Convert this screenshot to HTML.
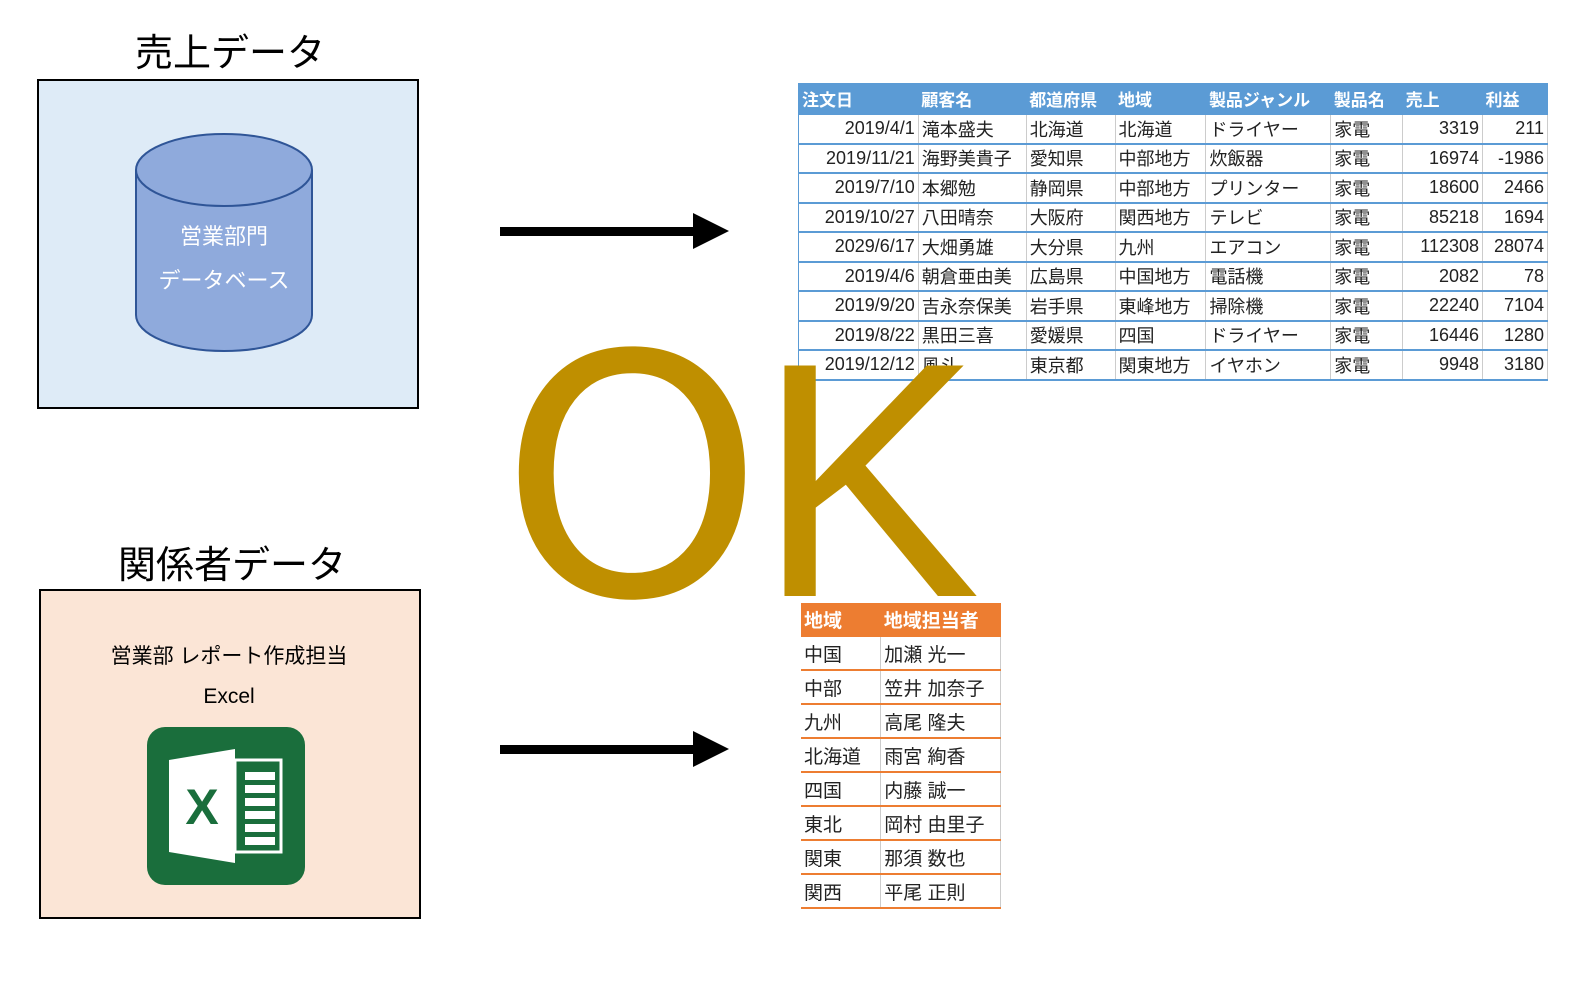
<!DOCTYPE html>
<html><head><meta charset="utf-8"><style>
body{margin:0;width:1574px;height:1000px;background:#fff;position:relative;overflow:hidden;font-family:"Liberation Sans","Noto Sans CJK JP",sans-serif}
.a{position:absolute}
table{border-collapse:collapse;position:absolute;font-size:17px;color:#222}
td{padding:0 3px;white-space:nowrap;overflow:hidden}
#t1{border:1px solid #5B9BD5}
#t1 td{border-bottom:2px solid #5B9BD5;border-right:1px solid #ccc;height:27.5px;font-size:18px}
#t1 tr.h td{background:#5B9BD5;color:#fff;font-weight:bold;height:29px;border-right:none;font-size:17px}
#t1 td.r{text-align:right}
#t2 td{border-bottom:2px solid #ED7D31;border-right:1px solid #ccc;height:32px;font-size:19px}
#t2 tr.h td{background:#ED7D31;color:#fff;font-weight:bold;border-right:none}
</style></head><body>
<div class="a" style="left:0;top:22px;width:460px;text-align:center;font-size:38px">売上データ</div>
<div class="a" style="left:37px;top:79px;width:378px;height:326px;background:#DEEBF7;border:2px solid #000"></div>
<svg class="a" style="left:0;top:0" width="460" height="1000">
<path d="M136 170 V315 A88 36 0 0 0 312 315 V170" fill="#8FAADC" stroke="#2F5597" stroke-width="2"/>
<ellipse cx="224" cy="170" rx="88" ry="36" fill="#8FAADC" stroke="#2F5597" stroke-width="2"/>
<text x="224" y="244" fill="#fff" font-size="22" text-anchor="middle" font-family="Liberation Sans, Noto Sans CJK JP, sans-serif">営業部門</text>
<text x="224" y="288" fill="#fff" font-size="22" text-anchor="middle" font-family="Liberation Sans, Noto Sans CJK JP, sans-serif">データベース</text>
</svg>
<div class="a" style="left:0;top:534px;width:464px;text-align:center;font-size:38px">関係者データ</div>
<div class="a" style="left:39px;top:589px;width:378px;height:326px;background:#FBE5D6;border:2px solid #000"></div>
<div class="a" style="left:39px;top:640px;width:380px;text-align:center;font-size:21px">営業部 レポート作成担当</div>
<div class="a" style="left:39px;top:685px;width:380px;text-align:center;font-size:21px">Excel</div>
<svg class="a" style="left:147px;top:727px" width="158" height="158">
<rect width="158" height="158" rx="18" fill="#1A6E3C"/>
<rect x="88" y="33" width="46" height="92" fill="none" stroke="#fff" stroke-width="3"/>
<g fill="#fff"><rect x="98" y="45" width="30" height="8"/><rect x="98" y="58" width="30" height="8"/><rect x="98" y="71" width="30" height="8"/><rect x="98" y="84" width="30" height="8"/><rect x="98" y="97" width="30" height="8"/><rect x="98" y="110" width="30" height="8"/>
<path d="M22 33 L88 22 V136 L22 125Z"/></g>
<text x="55" y="97" fill="#1A6E3C" font-size="50" font-weight="bold" text-anchor="middle" font-family="Liberation Sans, sans-serif">X</text>
</svg>
<svg class="a" style="left:0;top:0" width="1574" height="1000">
<rect x="500" y="227" width="200" height="9" fill="#000"/><path d="M693 213 L729 231 L693 249Z" fill="#000"/>
<rect x="500" y="745" width="200" height="9" fill="#000"/><path d="M693 731 L729 749 L693 767Z" fill="#000"/>
</svg>
<table id="t1" style="left:798px;top:83px;width:750px">
<colgroup><col style="width:120px"><col style="width:108px"><col style="width:89px"><col style="width:91px"><col style="width:125px"><col style="width:72px"><col style="width:80px"><col style="width:65px"></colgroup>
<tr class="h"><td>注文日</td><td>顧客名</td><td>都道府県</td><td>地域</td><td>製品ジャンル</td><td>製品名</td><td>売上</td><td>利益</td></tr>
<tr><td class="r">2019/4/1</td><td>滝本盛夫</td><td>北海道</td><td>北海道</td><td>ドライヤー</td><td>家電</td><td class="r">3319</td><td class="r">211</td></tr>
<tr><td class="r">2019/11/21</td><td>海野美貴子</td><td>愛知県</td><td>中部地方</td><td>炊飯器</td><td>家電</td><td class="r">16974</td><td class="r">-1986</td></tr>
<tr><td class="r">2019/7/10</td><td>本郷勉</td><td>静岡県</td><td>中部地方</td><td>プリンター</td><td>家電</td><td class="r">18600</td><td class="r">2466</td></tr>
<tr><td class="r">2019/10/27</td><td>八田晴奈</td><td>大阪府</td><td>関西地方</td><td>テレビ</td><td>家電</td><td class="r">85218</td><td class="r">1694</td></tr>
<tr><td class="r">2029/6/17</td><td>大畑勇雄</td><td>大分県</td><td>九州</td><td>エアコン</td><td>家電</td><td class="r">112308</td><td class="r">28074</td></tr>
<tr><td class="r">2019/4/6</td><td>朝倉亜由美</td><td>広島県</td><td>中国地方</td><td>電話機</td><td>家電</td><td class="r">2082</td><td class="r">78</td></tr>
<tr><td class="r">2019/9/20</td><td>吉永奈保美</td><td>岩手県</td><td>東峰地方</td><td>掃除機</td><td>家電</td><td class="r">22240</td><td class="r">7104</td></tr>
<tr><td class="r">2019/8/22</td><td>黒田三喜</td><td>愛媛県</td><td>四国</td><td>ドライヤー</td><td>家電</td><td class="r">16446</td><td class="r">1280</td></tr>
<tr><td class="r">2019/12/12</td><td>風斗</td><td>東京都</td><td>関東地方</td><td>イヤホン</td><td>家電</td><td class="r">9948</td><td class="r">3180</td></tr>
</table>
<table id="t2" style="left:801px;top:603px;width:200px">
<colgroup><col style="width:80px"><col style="width:120px"></colgroup>
<tr class="h"><td>地域</td><td>地域担当者</td></tr>
<tr><td>中国</td><td>加瀬 光一</td></tr>
<tr><td>中部</td><td>笠井 加奈子</td></tr>
<tr><td>九州</td><td>高尾 隆夫</td></tr>
<tr><td>北海道</td><td>雨宮 絢香</td></tr>
<tr><td>四国</td><td>内藤 誠一</td></tr>
<tr><td>東北</td><td>岡村 由里子</td></tr>
<tr><td>関東</td><td>那須 数也</td></tr>
<tr><td>関西</td><td>平尾 正則</td></tr>
</table>
<div class="a" style="left:500px;top:290px;font-size:335px;line-height:380px;color:#BF8F00;font-family:'DejaVu Sans',sans-serif">O</div>
<div class="a" style="left:757px;top:290px;font-size:335px;line-height:380px;color:#BF8F00;font-family:'Liberation Sans',sans-serif">K</div>
</body></html>
